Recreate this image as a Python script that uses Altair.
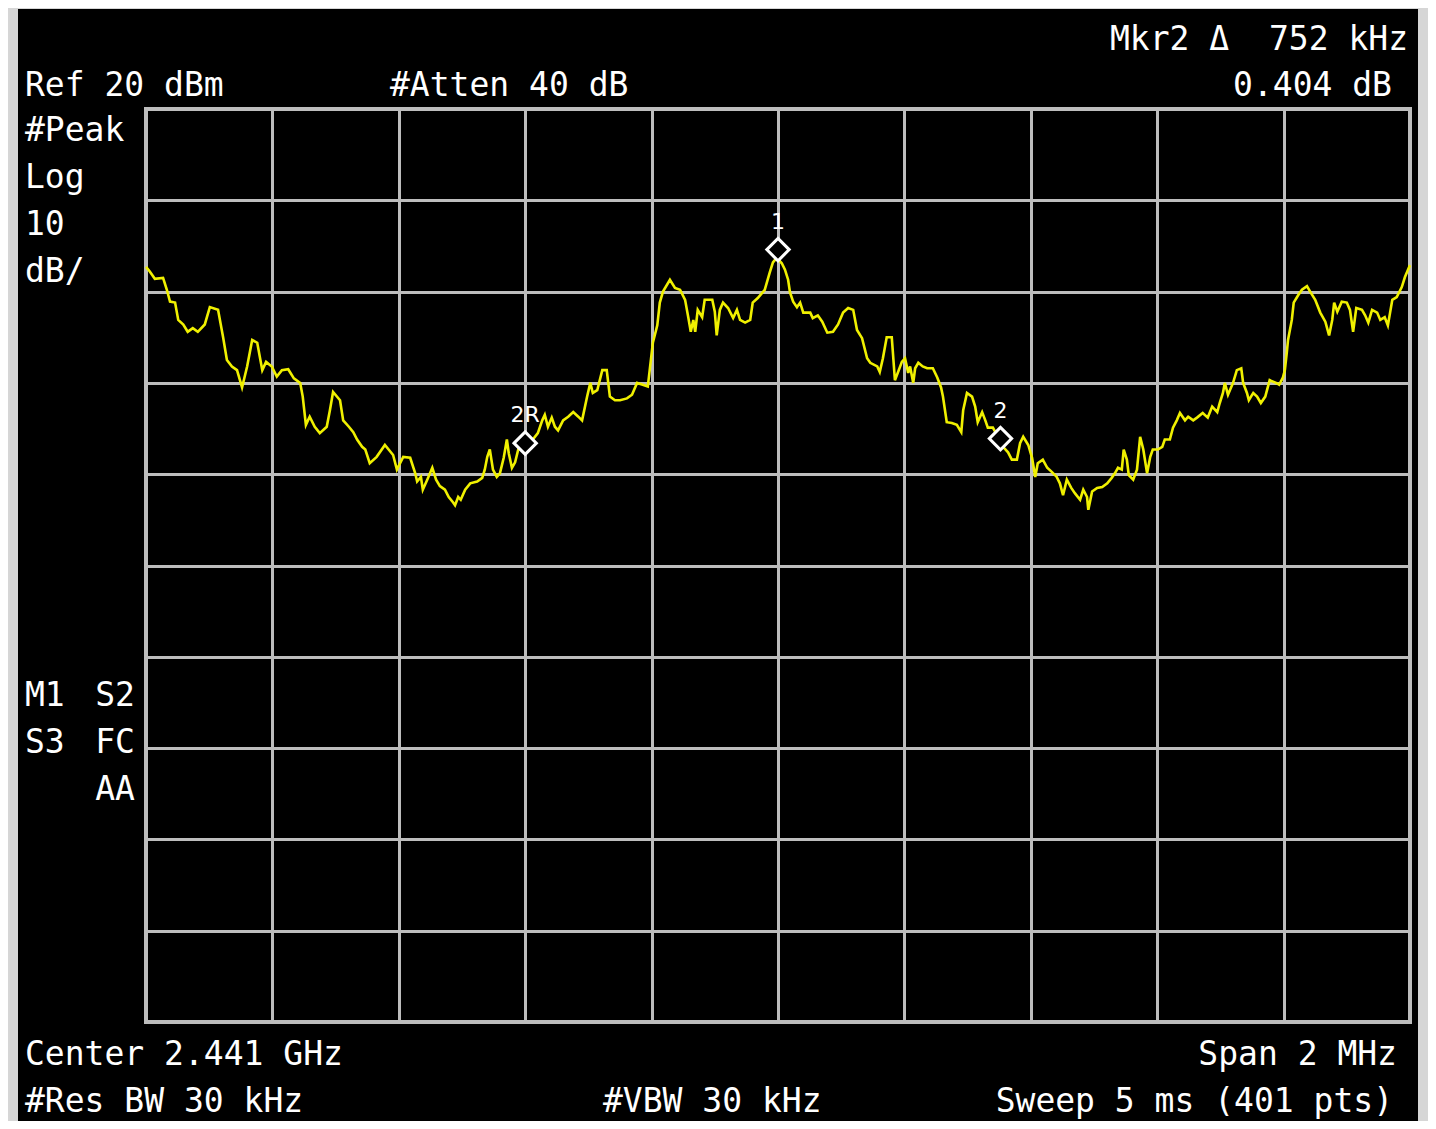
import altair as alt
import pandas as pd

# ---- trace (frequency offset from 2.441 GHz centre, kHz ; level, dBm) ----
freq_khz = [
    -1000, -994, -986, -973, -967, -962, -954, -949, -941, -934, -926, -918, -907, -899, -886, -878,
    -872, -864, -856, -848, -840, -832, -824, -816, -810, -801, -793, -785, -775, -766, -756, -752,
    -747, -741, -733, -725, -714, -709, -704, -693, -688, -679, -672,
    -666, -658, -653, -646, -635, -622, -609, -603, -593, -582, -574, -571, -565, -562, -555, -547,
    -541, -535, -527, -521, -514, -511, -506, -502, -495, -487, -476, -468, -464, -460, -456, -451,
    -445, -440, -434, -429, -426, -421, -416, -411, -405, -397, -388, -380, -373, -369, -364, -358,
    -353, -348, -340,
    -332, -324, -316, -310, -302, -297, -293, -286, -278, -271, -266, -258, -250, -239, -231, -223,
    -214, -206, -203, -198, -191, -187, -182, -171, -163, -155, -147, -142, -138, -134, -131, -127,
    -120, -116, -104, -100, -97, -92, -87, -79, -71, -65, -60, -52, -44, -40, -32, -21, -13, -8, -2,
    6, 11, 16, 19, 24, 30, 35, 40, 51, 55, 63, 70, 78, 87, 95, 103, 111, 119, 125, 133, 141, 146,
    157, 161, 166, 172, 180, 185, 190, 196, 201, 206, 209, 214, 217, 222, 229, 236, 245, 252, 258,
    261, 267, 275, 283, 290, 293, 299, 307, 312, 316, 323, 328, 332,
    340, 348, 356, 364, 370, 378, 383, 388, 396, 402, 407, 411, 419, 426, 434, 441, 446, 451, 457,
    464, 470, 478, 483, 489, 491, 497, 505, 513, 521, 528, 533, 538, 544, 547, 552, 555, 562, 568,
    573, 578, 584, 589, 593, 601, 608, 612, 620, 625, 631, 636, 644, 649, 657,
    663, 672, 680, 687, 695, 699, 704, 707, 712, 720, 726, 733, 736, 742, 745, 752, 758, 764, 771,
    778, 788, 793, 799, 802, 805, 807, 813, 816, 823, 829, 837, 842, 850, 858, 866, 872, 877, 880,
    885, 892, 900, 905, 910, 915, 924, 929, 934, 940, 948, 953, 960, 965, 972, 979, 987, 992, 1000,
]
level_dbm = [
    2.7, 2.2, 1.4, 1.5, 0.2, -1.1, -1.2, -3.1, -3.6, -4.4, -4.0, -4.4, -3.6, -1.7, -2.0, -5.0,
    -7.5, -8.2, -8.6, -10.5, -8.2, -5.3, -5.6, -8.6, -7.7, -8.2, -9.3, -8.6, -8.5, -9.5, -10.0, -11.5,
    -14.6, -13.7, -14.8, -15.5, -14.8, -13.0, -11.0, -11.9, -14.1, -14.8, -15.4,
    -16.2, -17.0, -17.3, -18.8, -18.1, -16.8, -17.9, -19.5, -18.1, -18.2, -19.9, -20.8, -20.3, -21.7, -20.6, -19.3,
    -20.6, -21.3, -21.7, -22.5, -23.1, -23.4, -22.5, -22.8, -21.7, -21.0, -20.8, -20.4, -19.5, -18.1, -17.3, -19.5,
    -20.3, -19.9, -18.2, -16.2, -17.7, -19.3, -18.7, -17.3, -16.6, -16.6, -16.2, -15.5, -14.1, -13.5, -14.8, -13.8,
    -14.8, -15.2, -14.1,
    -13.7, -13.2, -13.7, -14.1, -11.5, -10.0, -11.1, -10.8, -8.6, -8.6, -11.5, -11.9, -11.9, -11.7, -11.3, -10.0,
    -10.2, -10.4, -8.6, -5.6, -3.7, -1.2, 0.0, 1.3, 0.4, 0.2, -0.9, -2.8, -4.4, -3.1, -4.4, -2.0,
    -2.8, -0.9, -0.9, -2.2, -4.8, -2.0, -1.2, -1.8, -2.9, -2.0, -3.1, -3.4, -3.1, -1.2, -0.7, 0.2, 2.1, 3.2, 3.7,
    3.1, 2.4, 1.3, -0.1, -1.1, -1.7, -1.2, -2.3, -2.3, -2.9, -2.6, -3.3, -4.5, -4.4, -3.6, -2.3, -1.8, -2.0, -4.2, -5.1, -7.3, -7.8,
    -8.2, -8.8, -7.3, -5.0, -5.0, -9.7, -8.8, -7.7, -7.3, -8.9, -8.2, -10.0, -8.4, -7.8, -8.2, -8.4, -8.4, -9.4, -10.5,
    -11.5, -14.3, -14.4, -14.6, -15.4, -13.0, -11.1, -11.5, -12.6, -14.3, -13.2, -14.1, -14.9,
    -14.9, -15.9, -17.0, -17.6, -18.4, -18.4, -16.6, -15.9, -16.8, -18.2, -20.3, -18.8, -18.4, -19.3, -19.8, -20.3, -21.0, -22.3, -20.6,
    -21.5, -22.1, -22.8, -21.7, -22.5, -23.9, -21.9, -21.5, -21.4, -21.0, -20.4, -19.9, -19.3, -19.5, -17.3, -18.4, -20.1, -20.6, -19.5,
    -15.9, -17.3, -19.9, -18.1, -17.3, -17.3, -17.0, -16.2, -16.2, -14.9, -14.1, -13.3, -14.1, -13.7, -14.1,
    -13.8, -13.3, -13.8, -12.6, -13.2, -12.2, -11.1, -10.0, -11.3, -10.0, -8.6, -8.4, -10.0, -11.1, -11.9, -11.1, -11.5, -12.2, -11.5,
    -9.7, -10.0, -10.2, -9.4, -8.6, -6.7, -5.3, -3.1, -1.2, -0.4, 0.2, 0.6, 0.0, -0.9, -2.3, -3.3, -4.8, -3.1, -1.2,
    -2.2, -1.1, -1.2, -2.0, -4.4, -1.8, -2.0, -2.6, -3.4, -2.0, -2.3, -3.1, -2.8, -3.7, -0.9, -0.6, 0.5, 1.6, 2.9,
]

# ---- markers ----
marker_names = ["1", "2R", "2"]
marker_freq_khz = [0, -400, 352]
marker_level_dbm = [4.6, -16.6, -16.1]

# ---- screen annotations ----
header_right = "Mkr2 \u0394\u00a0 752 kHz"
ref_text = "Ref 20 dBm"
atten_text = "#Atten 40 dB"
delta_text = "0.404 dB"
scale_texts = ["#Peak", "Log", "10", "dB/"]
status_left = ["M1", "S3"]
status_right = ["S2", "FC", "AA"]
center_text = "Center 2.441 GHz"
span_text = "Span 2 MHz"
rbw_text = "#Res BW 30 kHz"
vbw_text = "#VBW 30 kHz"
sweep_text = "Sweep 5 ms (401 pts)"

# grid: 10 divisions each way
x_ticks = list(range(-1000, 1001, 200))
y_ticks = list(range(-80, 21, 10))

W, H = 1264, 913
FONT = "DejaVu Sans Mono"
FS = 33
GRID = "#bdbdbd"

trace_df = pd.DataFrame({"freq_khz": freq_khz, "level_dbm": level_dbm})
marker_df = pd.DataFrame({"name": marker_names, "freq_khz": marker_freq_khz,
                          "level_dbm": marker_level_dbm})

xs = alt.Scale(domain=[-1000, 1000], nice=False, zero=False)
ys = alt.Scale(domain=[-80, 20], nice=False, zero=False)
x_axis = alt.Axis(values=x_ticks, labels=False, ticks=False, domain=False, title=None,
                  grid=True, gridColor=GRID, gridWidth=3, gridOpacity=1)
y_axis = alt.Axis(values=y_ticks, labels=False, ticks=False, domain=False, title=None,
                  grid=True, gridColor=GRID, gridWidth=3, gridOpacity=1)

one = pd.DataFrame({"k": [0]})

# light grey bezel strips at left / right / top
bezel = alt.layer(
    alt.Chart(one).mark_rect(color="#d6d6d6").encode(
        x=alt.value(-140), x2=alt.value(-128), y=alt.value(-110), y2=alt.value(1020)),
    alt.Chart(one).mark_rect(color="#d6d6d6").encode(
        x=alt.value(1272), x2=alt.value(1290), y=alt.value(-110), y2=alt.value(1020)),
    alt.Chart(one).mark_rect(color="#d6d6d6").encode(
        x=alt.value(-140), x2=alt.value(1290), y=alt.value(-110), y2=alt.value(-100)),
)

trace = alt.Chart(trace_df).mark_line(color="#f0f000", strokeWidth=2.6).encode(
    x=alt.X("freq_khz:Q", scale=xs, axis=x_axis),
    y=alt.Y("level_dbm:Q", scale=ys, axis=y_axis),
    order="freq_khz:Q",
)

markers = alt.Chart(marker_df).mark_point(
    shape="diamond", size=500, filled=True, fill="black", stroke="white",
    strokeWidth=3, opacity=1, fillOpacity=1
).encode(x=alt.X("freq_khz:Q", scale=xs), y=alt.Y("level_dbm:Q", scale=ys))

marker_labels = alt.Chart(marker_df).mark_text(
    color="white", font="DejaVu Sans", fontSize=22, dy=-21, baseline="alphabetic"
).encode(x=alt.X("freq_khz:Q", scale=xs), y=alt.Y("level_dbm:Q", scale=ys), text="name:N")


def label(text, px, py, align="left"):
    return alt.Chart(pd.DataFrame({"t": [text]})).mark_text(
        color="white", font=FONT, fontSize=FS, align=align, baseline="alphabetic"
    ).encode(x=alt.value(px), y=alt.value(py), text="t:N")


texts = [
    label(header_right, 1262, -59, "right"),
    label(ref_text, -121, -13),
    label(atten_text, 244, -13),
    label(delta_text, 1246, -13, "right"),
    label(center_text, -121, 956),
    label(span_text, 1251, 956, "right"),
    label(rbw_text, -121, 1003),
    label(vbw_text, 457, 1003),
    label(sweep_text, 1247, 1003, "right"),
]
for i, t in enumerate(scale_texts):
    texts.append(label(t, -121, 32 + 47 * i))
for i, t in enumerate(status_left):
    texts.append(label(t, -121, 597 + 47 * i))
for i, t in enumerate(status_right):
    texts.append(label(t, -11, 597 + 47 * i, "right"))

chart = alt.layer(bezel, trace, markers, marker_labels, *texts).properties(
    width=W, height=H,
    padding={"left": 138, "top": 101, "right": 18, "bottom": 99},
    autosize=alt.AutoSizeParams(type="none"),
    background="black",
).configure_view(stroke=GRID, strokeWidth=4, fill="black")

chart.save("out.html", embed_options={"renderer": "svg", "actions": False})
